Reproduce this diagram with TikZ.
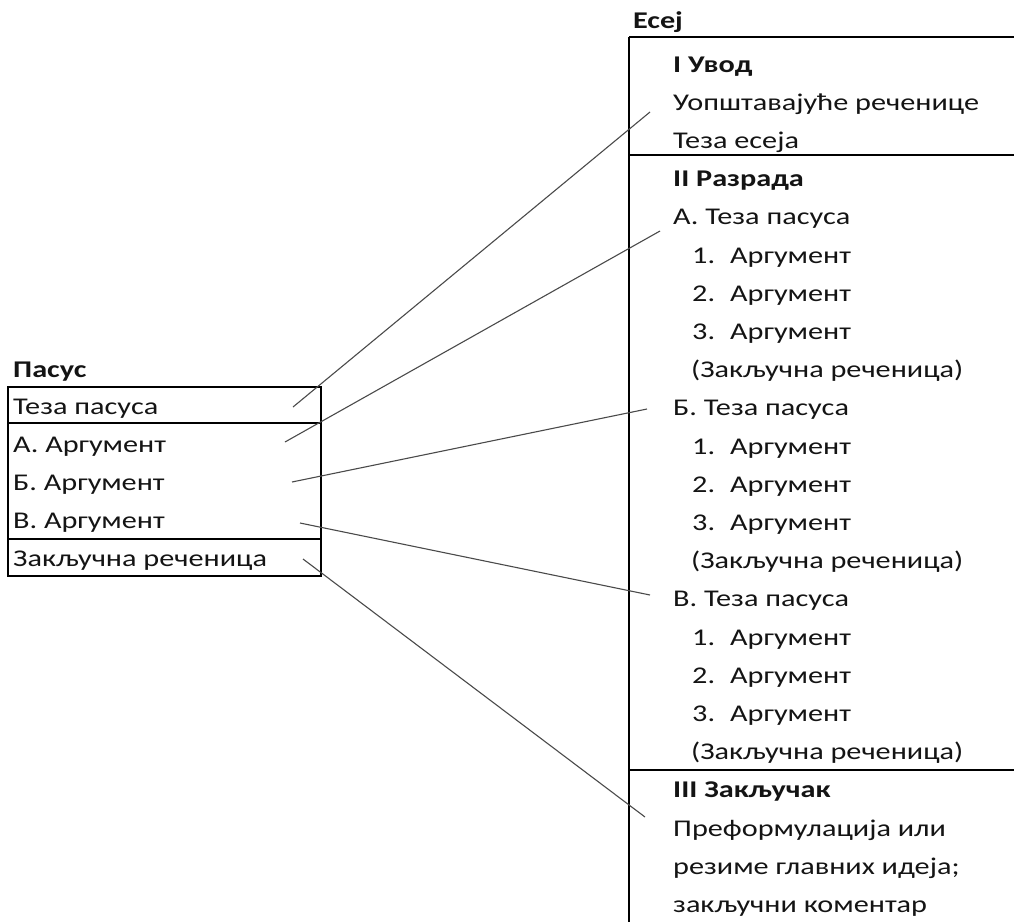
\documentclass[tikz,border=0pt]{standalone}
\usepackage{fontspec}
\setmainfont{Carlito}[FakeStretch=1.26]
\usetikzlibrary{positioning}
\usepackage{xcolor}
\definecolor{txtblack}{HTML}{141414}
\definecolor{linkgray}{HTML}{4A4A4A}

\begin{document}
\begin{tikzpicture}[x=1pt, y=-1pt,
          t/.style={anchor=base west, inner sep=0pt, text=txtblack, font=\fontsize{24}{28}\selectfont},
          hd/.style={t, font=\fontsize{24}{28}\selectfont\bfseries},
          frame/.style={line width=2.8pt, black},
          link/.style={line width=1.1pt, linkgray}]
        \useasboundingbox (0,0) rectangle (1014,921);
        % Pasus box
        \node[hd] (pasus) at (13,377) {Пасус};
        \node[t] (ptez) at (13,414) {Теза пасуса};
        \node[t] (parga) at (13,452.2) {А. Аргумент};
        \node[t] (pargb) at (13,490.4) {Б. Аргумент};
        \node[t] (pargv) at (13,528.6) {В. Аргумент};
        \node[t] (pzak) at (13,566.8) {Закључна реченица};
        \draw[frame] (8,387) rectangle (321,576);
        \draw[frame] (8,423) -- (321,423);
        \draw[frame] (8,539) -- (321,539);
        % Esej box
        \node[hd] (esej) at (633,28) {Есеј};
        \node[hd] (uvod) at (673,72) {I Увод};
        \node[t] (uops) at (673,110.2) {Уопштавајуће реченице};
        \node[t] (etez) at (673,148.4) {Теза есеја};
        \node[hd] (razr) at (673,186.6) {II Разрада};
        \node[t] (atez) at (673,224.8) {А. Теза пасуса};
        \node[t] (a1) at (692,263) {\makebox[38pt][l]{1.}Аргумент};
        \node[t] (a2) at (692,301.2) {\makebox[38pt][l]{2.}Аргумент};
        \node[t] (a3) at (692,339.4) {\makebox[38pt][l]{3.}Аргумент};
        \node[t] (azak) at (691,377.6) {(Закључна реченица)};
        \node[t] (btez) at (673,415.8) {Б. Теза пасуса};
        \node[t] (b1) at (692,454) {\makebox[38pt][l]{1.}Аргумент};
        \node[t] (b2) at (692,492.2) {\makebox[38pt][l]{2.}Аргумент};
        \node[t] (b3) at (692,530.4) {\makebox[38pt][l]{3.}Аргумент};
        \node[t] (bzak) at (691,568.6) {(Закључна реченица)};
        \node[t] (vtez) at (673,606.8) {В. Теза пасуса};
        \node[t] (v1) at (692,645) {\makebox[38pt][l]{1.}Аргумент};
        \node[t] (v2) at (692,683.2) {\makebox[38pt][l]{2.}Аргумент};
        \node[t] (v3) at (692,721.4) {\makebox[38pt][l]{3.}Аргумент};
        \node[t] (vzak) at (691,759.6) {(Закључна реченица)};
        \node[hd] (zakl) at (673,797.8) {III Закључак};
        \node[t] (pref) at (673,836) {Преформулација или};
        \node[t] (rez) at (673,874.2) {резиме главних идеја;};
        \node[t] (kom) at (673,912.4) {закључни коментар};
        \draw[frame] (629,37) -- (1020,37);
        \draw[frame] (629,155) -- (1020,155);
        \draw[frame] (629,770) -- (1020,770);
        \draw[frame] (629,37) -- (629,925);
        % links
        \coordinate (l1) at (293,407);  \coordinate (r1) at (650,112);
        \coordinate (l2) at (285,442);  \coordinate (r2) at (660,231);
        \coordinate (l3) at (292,482);  \coordinate (r3) at (647,409);
        \coordinate (l4) at (300,523);  \coordinate (r4) at (650,595);
        \coordinate (l5) at (303,559);  \coordinate (r5) at (645,817);
        \draw[link] (l1) -- (r1);
        \draw[link] (l2) -- (r2);
        \draw[link] (l3) -- (r3);
        \draw[link] (l4) -- (r4);
        \draw[link] (l5) -- (r5);
\end{tikzpicture}
\end{document}
